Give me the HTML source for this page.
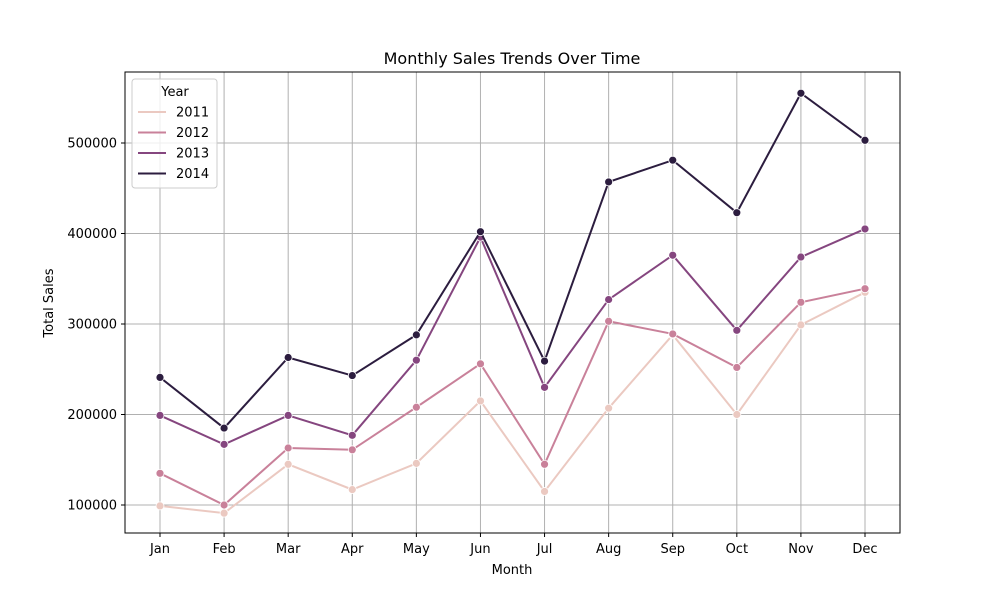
<!DOCTYPE html>
<html><head><meta charset="utf-8"><style>
body{margin:0;background:#fff;font-family:"Liberation Sans","DejaVu Sans",sans-serif}
svg text{font-family:"DejaVu Sans","Liberation Sans",sans-serif}
</style></head><body>
<svg id="chart" width="1000" height="600" xmlns="http://www.w3.org/2000/svg"></svg>
<script>
const months=["Jan","Feb","Mar","Apr","May","Jun","Jul","Aug","Sep","Oct","Nov","Dec"];
const years=["2011","2012","2013","2014"];
const s2011=[99000,91000,145000,117000,146000,215000,115000,207000,288000,200000,299000,335000];
const s2012=[135000,100000,163000,161000,208000,256000,145000,303000,289000,252000,324000,339000];
const s2013=[199000,167000,199000,177000,260000,396000,230000,327000,376000,293000,374000,405000];
const s2014=[241000,185000,263000,243000,288000,402000,259000,457000,481000,423000,555000,503000];
const yTicks=[100000,200000,300000,400000,500000];
const series=[s2011,s2012,s2013,s2014];
const colors=["#ebc9c1","#c9819a","#85467f","#2c1d3f"];
const NS="http://www.w3.org/2000/svg";
const svg=document.getElementById('chart');
const L=125,R=900,T=72,B=533;
const xs=i=>160+i*(865-160)/11;
const ys=v=>505-(v-100000)*(505-143)/400000;
function el(t,a,p){const e=document.createElementNS(NS,t);for(const k in a)e.setAttribute(k,a[k]);(p||svg).appendChild(e);return e;}
// grid
months.forEach((m,i)=>{
  const g=el('line',{x1:xs(i),x2:xs(i),y1:T,y2:B,stroke:'#b0b0b0','stroke-width':1});
  
  
  el('line',{x1:xs(i),x2:xs(i),y1:B,y2:B+4,stroke:'#000'});
  const t=el('text',{x:xs(i),y:B+20,'text-anchor':'middle','font-size':13});
  t.textContent=m;
  
  
});
yTicks.forEach(v=>{
  const g=el('line',{x1:L,x2:R,y1:ys(v),y2:ys(v),stroke:'#b0b0b0','stroke-width':1});
  
  
  el('line',{x1:L-4,x2:L,y1:ys(v),y2:ys(v),stroke:'#000'});
  const t=el('text',{x:L-8,y:ys(v)+4.5,'text-anchor':'end','font-size':13});
  t.textContent=v;
  
  
});
series.forEach((s,k)=>{
  const p=el('polyline',{points:s.map((v,i)=>xs(i)+','+ys(v)).join(' '),fill:'none',stroke:colors[k],'stroke-width':2});
  
  
  s.forEach((v,i)=>{
    const c=el('circle',{cx:xs(i),cy:ys(v),r:4,fill:colors[k],stroke:'#fff','stroke-width':0.8});
    
    
  });
});
const fr=el('rect',{x:L,y:T,width:R-L,height:B-T,fill:'none',stroke:'#000','stroke-width':1});


const title=el('text',{x:512,y:64,'text-anchor':'middle','font-size':16});
title.textContent='Monthly Sales Trends Over Time';


const xl=el('text',{x:512,y:574,'text-anchor':'middle','font-size':13});
xl.textContent='Month';


const yl=el('text',{x:53,y:303,'text-anchor':'middle','font-size':13,transform:'rotate(-90 53 303)'});
yl.textContent='Total Sales';


// legend
const lg=el('g',{});


el('rect',{x:132,y:79,width:85,height:109,rx:3,fill:'#fff','fill-opacity':0.8,stroke:'#ccc'},lg);
const lt=el('text',{x:175,y:96,'text-anchor':'middle','font-size':13},lg);
lt.textContent='Year';
years.forEach((y,k)=>{
  const yy=112+k*20.5;
  const e=el('g',{},lg);
  
  
  el('line',{x1:138,x2:166,y1:yy,y2:yy,stroke:colors[k],'stroke-width':2},e);
  const t=el('text',{x:176,y:yy+4.5,'font-size':13},e);
  t.textContent=y;
});
</script>
</body></html>
